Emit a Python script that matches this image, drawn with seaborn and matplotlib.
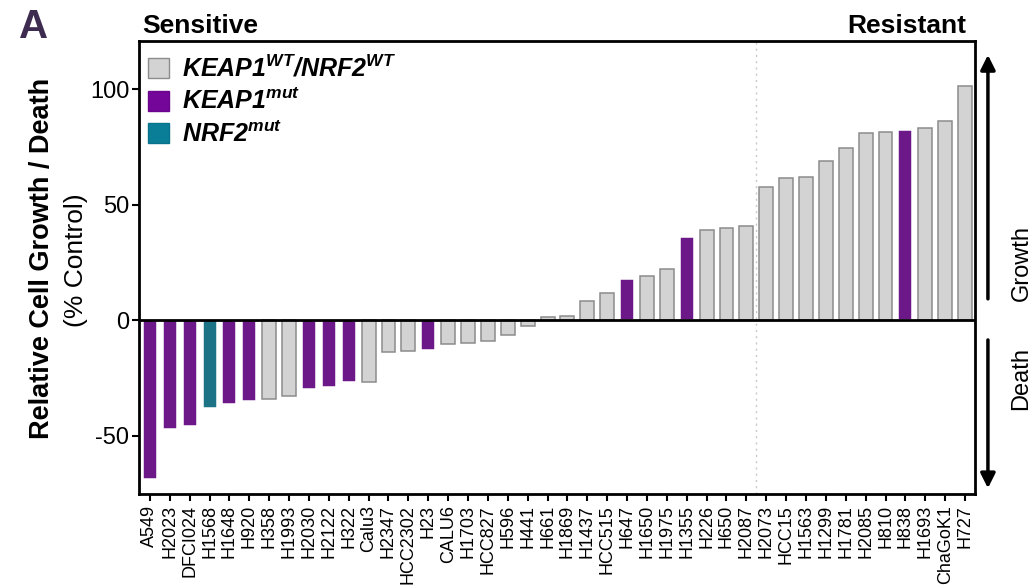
import matplotlib
matplotlib.use('Agg')
import matplotlib.pyplot as plt
import seaborn as sns
import pandas as pd
from matplotlib.patches import Patch

# Data
cell_lines = ['A549', 'H2023', 'DFCI024', 'H1568', 'H1648', 'H920', 'H358', 'H1993',
              'H2030', 'H2122', 'H322', 'Calu3', 'H2347', 'HCC2302', 'H23', 'CALU6',
              'H1703', 'HCC827', 'H596', 'H441', 'H661', 'H1869', 'H1437', 'HCC515',
              'H647', 'H1650', 'H1975', 'H1355', 'H226', 'H650', 'H2087', 'H2073',
              'HCC15', 'H1563', 'H1299', 'H1781', 'H2085', 'H810', 'H838', 'H1693',
              'ChaGoK1', 'H727']
growth = [-69, -47, -46, -38, -36.5, -35, -34, -33, -30, -29, -27, -27, -14, -13.5,
          -13, -10.5, -10, -9, -6.5, -2.7, 1.3, 1.7, 8.2, 11.6, 17.9, 19, 22, 36,
          39, 40, 40.7, 57.7, 61.4, 61.9, 68.8, 74.4, 80.9, 81.3, 82.1, 83, 86.2, 101.2]
keap1_mut = ['A549', 'H2023', 'DFCI024', 'H1648', 'H920', 'H2030', 'H2122', 'H322',
             'H23', 'H647', 'H1355', 'H838']
nrf2_mut = ['H1568']

genotype = []
for c in cell_lines:
    if c in keap1_mut:
        genotype.append('KEAP1mut')
    elif c in nrf2_mut:
        genotype.append('NRF2mut')
    else:
        genotype.append('WT')

df = pd.DataFrame({'cell_line': cell_lines, 'growth': growth, 'genotype': genotype})

palette = {'WT': '#d3d3d3', 'KEAP1mut': '#75069a', 'NRF2mut': '#0a7e97'}
edges = {'WT': '#8c8c8c', 'KEAP1mut': '#6a058c', 'NRF2mut': '#08738a'}

sns.set_style('ticks')
plt.rcParams['font.family'] = ['Liberation Sans', 'DejaVu Sans']
plt.rcParams['axes.unicode_minus'] = False
plt.rcParams['text.color'] = 'black'
plt.rcParams['xtick.color'] = 'black'
plt.rcParams['ytick.color'] = 'black'
plt.rcParams['axes.labelcolor'] = 'black'
plt.rcParams['mathtext.fontset'] = 'custom'
plt.rcParams['mathtext.rm'] = 'Liberation Sans:italic:bold'
plt.rcParams['mathtext.it'] = 'Liberation Sans:italic:bold'
plt.rcParams['mathtext.bf'] = 'Liberation Sans:italic:bold'

fig = plt.figure(figsize=(10.35, 5.87), dpi=100)
ax = fig.add_axes([0.1343, 0.1584, 0.8077, 0.7716])

sns.barplot(data=df, x='cell_line', y='growth', hue='genotype', palette=palette,
            dodge=False, width=0.7, legend=False, ax=ax, linewidth=1.1)

# edge colours by genotype
for bar in ax.patches:
    fc = matplotlib.colors.to_hex(bar.get_facecolor())
    for k, v in palette.items():
        if fc == v:
            bar.set_edgecolor(edges[k])

ax.axhline(0, color='black', lw=2, zorder=5)
ax.axvline(30.5, color='#c8c8c8', lw=1, ls=(0, (1.5, 3)), zorder=0)

ax.set_xlim(-0.55, 41.5)
ax.set_ylim(-75.3, 120.8)
ax.set_yticks([-50, 0, 50, 100])
ax.set_xlabel('')
ax.set_ylabel('')
ax.tick_params(axis='y', labelsize=17, width=1.5, length=5, pad=2, colors='black')
ax.tick_params(axis='x', labelsize=13, rotation=90, width=1.5, length=5, pad=3, colors='black')
for s in ax.spines.values():
    s.set_linewidth(2)
    s.set_color('black')

# legend
handles = [Patch(facecolor=palette['WT'], edgecolor=edges['WT']),
           Patch(facecolor=palette['KEAP1mut'], edgecolor=edges['KEAP1mut']),
           Patch(facecolor=palette['NRF2mut'], edgecolor=edges['NRF2mut'])]
labels = [r'$KEAP1^{WT}/NRF2^{WT}$', r'$KEAP1^{mut}$', r'$NRF2^{mut}$']
ax.legend(handles, labels, loc='upper left', frameon=False, fontsize=18,
          handlelength=0.85, handleheight=0.85, handletextpad=0.5,
          labelspacing=0.28, borderaxespad=0.15, borderpad=0.2,
          bbox_to_anchor=(0.0, 0.988))

# growth / death arrows on the right
tr = ax.get_yaxis_transform()
ax.annotate('', xy=(1.0155, 116), xytext=(1.0155, 8), xycoords=tr, textcoords=tr,
            arrowprops=dict(arrowstyle='-|>', color='black', lw=2.5, mutation_scale=22),
            annotation_clip=False)
ax.annotate('', xy=(1.0155, -74), xytext=(1.0155, -7.4), xycoords=tr, textcoords=tr,
            arrowprops=dict(arrowstyle='-|>', color='black', lw=2.5, mutation_scale=22),
            annotation_clip=False)
fig.text(0.987, 1 - 263 / 587, 'Growth', rotation=90, ha='center', va='center', fontsize=17)
fig.text(0.987, 1 - 378 / 587, 'Death', rotation=90, ha='center', va='center', fontsize=17)

# titles and labels
fig.text(0.137, 1 - 26 / 587, 'Sensitive', fontsize=19, fontweight='bold', ha='left', va='center')
fig.text(0.934, 1 - 26 / 587, 'Resistant', fontsize=19, fontweight='bold', ha='right', va='center')
fig.text(0.018, 1 - 27 / 587, 'A', fontsize=29, fontweight='bold', color='#3e2b50',
         ha='left', va='center')
fig.text(0.041, 1 - 258 / 587, 'Relative Cell Growth / Death', rotation=90, fontsize=19.5,
         fontweight='bold', ha='center', va='center')
fig.text(0.073, 1 - 260 / 587, '(% Control)', rotation=90, fontsize=19,
         ha='center', va='center')

fig.savefig('out.png', dpi=100)
